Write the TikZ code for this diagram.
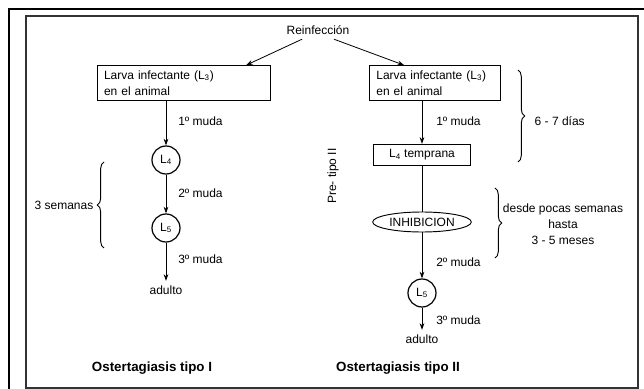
\documentclass[tikz,border=0pt]{standalone}
\usepackage{fontspec}
\setmainfont{Liberation Sans}
\usetikzlibrary{arrows.meta, positioning, shapes.geometric, decorations.pathreplacing}

\begin{document}
\begin{tikzpicture}[x=0.75pt, y=-0.75pt, font=\fontsize{9}{12}\selectfont,
  caja/.style={draw, line width=0.7pt, align=left, inner xsep=5pt, minimum height=26pt},
  larva/.style={draw, circle, line width=0.9pt, minimum size=21pt, inner sep=0pt},
  flecha/.style={-{Stealth[length=5pt, width=3.5pt]}, line width=0.6pt},
  llave/.style={decorate, decoration={brace, amplitude=5pt}, line width=0.7pt},
  muda/.style={anchor=west, inner sep=0pt},
  titulo/.style={font=\fontsize{10}{12}\selectfont\bfseries}]

% marco
\useasboundingbox (0,0) rectangle (644,389);
\draw[line width=2.2pt] (9,389) -- (9,9) -- (644,9);
\draw[line width=1.1pt, black!80] (26,16) rectangle (638,388);

\node (reinf) at (318,30) {Reinfección};

% tipo I
\node[caja, text width=120pt] (l3a) at (184,83) {Larva infectante (L\textsubscript{3})\\en el animal};
\node[larva] (l4a) at (166,160) {L\textsubscript{4}};
\node[larva] (l5a) at (166,228) {L\textsubscript{5}};
\node (adA) at (166,290) {adulto};
\node[muda] (m1a) at (178,121) {1º muda};
\node[muda] (m2a) at (178,193) {2º muda};
\node[muda] (m3a) at (178,259) {3º muda};

% tipo II
\node[caja, text width=88pt] (l3b) at (435,83) {Larva infectante (L\textsubscript{3})\\en el animal};
\node[caja, minimum width=73pt, minimum height=16pt] (l4t) at (422,155) {L\textsubscript{4} temprana};
\node[draw, ellipse, line width=0.7pt, minimum width=74pt, minimum height=15pt, inner sep=1pt] (inhib) at (422,222) {INHIBICION};
\node[larva] (l5b) at (422,293) {L\textsubscript{5}};
\node (adB) at (422,339) {adulto};
\node[muda] (m1b) at (436,121) {1º muda};
\node[muda] (m2b) at (436,262) {2º muda};
\node[muda] (m3b) at (436,320) {3º muda};
\node[rotate=90] (pre) at (333,176) {Pre- tipo II};

\draw[flecha] (reinf.-150) -- (l3a.16);
\draw[flecha] (reinf.-30) -- (l3b.150);
\draw[flecha] (l3a.south -| l4a) -- (l4a);
\draw[flecha] (l4a) -- (l5a);
\draw[flecha] (l5a) -- (adA);
\draw[flecha] (l3b.south -| l4t) -- (l4t);
\draw[line width=0.6pt] (l4t) -- (inhib);
\draw[flecha] (inhib) -- (l5b);
\draw[flecha] (l5b) -- (adB);

% llaves
\coordinate (b1s) at (104,248);
\coordinate (b1e) at (104,162);
\draw[llave] (b1s) -- (b1e);
\node[anchor=east] (sem) at (98,205) {3 semanas};
\coordinate (b2s) at (518,70);
\coordinate (b2e) at (518,162);
\draw[llave] (b2s) -- (b2e);
\node[anchor=west] (dias) at (530,121) {6 - 7 días};
\coordinate (b3s) at (495,188);
\coordinate (b3e) at (495,258);
\draw[llave] (b3s) -- (b3e);
\node[align=center] (meses) at (563,224) {desde pocas semanas\\hasta\\3 - 5 meses};

\node[titulo] (t1) at (152,368) {Ostertagiasis tipo I};
\node[titulo] (t2) at (398,368) {Ostertagiasis tipo II};
\end{tikzpicture}
\end{document}
